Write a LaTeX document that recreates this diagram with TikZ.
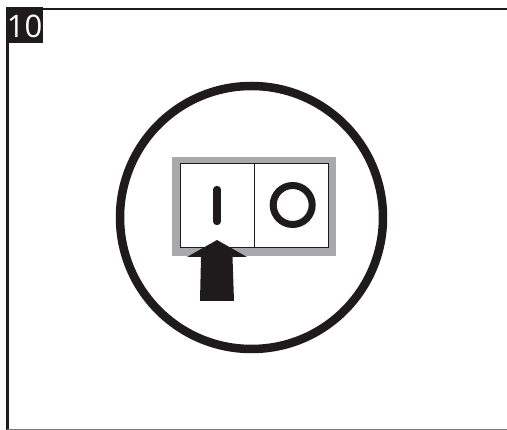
\documentclass[tikz,border=0pt]{standalone}
\usepackage{fontspec}
\setmainfont{Open Sans}
\definecolor{ink}{HTML}{1F1B1C}
\definecolor{plate}{HTML}{A7A9AC}
\begin{document}
\begin{tikzpicture}[x=1pt,y=-1pt,
  frameline/.style={draw=ink,line width=2.7pt},
  thinline/.style={draw=ink,line width=1pt},
  symbolline/.style={draw=ink,line width=7.3pt,line cap=round}]
\useasboundingbox (0,0) rectangle (507,430);
\fill[white] (0,0) rectangle (507,430);
% frame
\coordinate (tl) at (7.3,9);
\coordinate (tr) at (507,9);
\coordinate (bl) at (7.3,430);
\coordinate (br) at (507,429.5);
\draw[frameline] (tl) -- (tr);
\draw[frameline] (tl) -- (bl);
\draw[draw=ink!60,line width=0.8pt] (7.3,429.5) -- (br);
\node[fill=ink,text=white,minimum width=37pt,inner sep=0pt,text height=31pt,text depth=5pt,font=\fontsize{31}{31}\selectfont] (num) at (24.5,25) {10};
% big circle
\node[circle,draw=ink,line width=8.5pt,minimum size=263pt,inner sep=0pt] (ring) at (251.5,217.5) {};
% switch
\fill[plate] (172,157) rectangle (336,256);
\draw[thinline,fill=white] (180,164) rectangle (328,248);
\draw[thinline] (254,164) -- (254,248);
\draw[symbolline] (217,189.5) -- (217,221.5);
\node[circle,draw=ink,line width=7pt,minimum size=39pt,inner sep=0pt] (off) at (292.7,205) {};
% arrow
\fill[ink] (217,240) -- (247,257) -- (232.5,257) -- (234,301) -- (200,301) -- (201,257) -- (187,257) -- cycle;
\end{tikzpicture}
\end{document}
